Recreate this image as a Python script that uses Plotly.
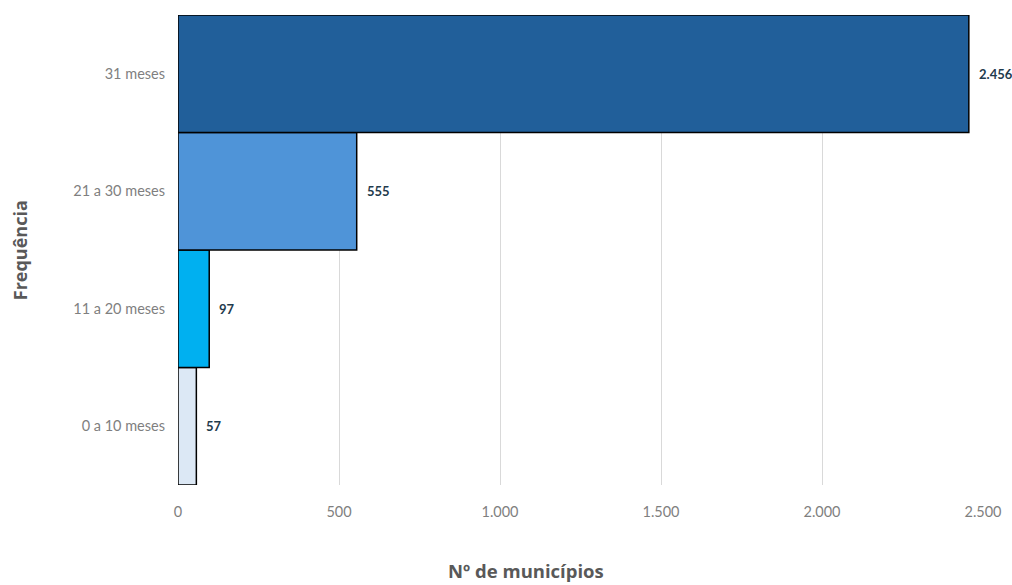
import plotly.graph_objects as go

categories = ["0 a 10 meses", "11 a 20 meses", "21 a 30 meses", "31 meses"]
values = [57, 97, 555, 2456]
labels = ["57", "97", "555", "2.456"]
colors = ["#DCE8F5", "#00B0F0", "#4F94D8", "#215F9A"]
x_ticks = [0, 500, 1000, 1500, 2000, 2500]
x_tick_labels = ["0", "500", "1.000", "1.500", "2.000", "2.500"]

fig = go.Figure()
fig.add_trace(go.Bar(
    x=values, y=categories, orientation="h",
    marker=dict(color=colors, line=dict(color="#000000", width=1.5)),
    hoverinfo="skip",
))

annotations = [
    dict(x=v, y=c, text="<b>" + t + "</b>", xref="x", yref="y",
         xanchor="left", yanchor="middle", xshift=8, showarrow=False,
         font=dict(family="Lato", size=13, color="#1F3B4D"))
    for v, c, t in zip(values, categories, labels)
]
annotations += [
    dict(text="<b>Frequência</b>", xref="paper", yref="paper",
         x=-0.196, y=0.5, xanchor="center", yanchor="middle",
         showarrow=False, textangle=-90,
         font=dict(family="Open Sans", size=18, color="#595959")),
    dict(text="<b>Nº de municípios</b>", xref="paper", yref="paper",
         x=0.432, y=-0.182, xanchor="center", yanchor="middle", showarrow=False,
         font=dict(family="Open Sans", size=18.5, color="#595959")),
]

fig.update_layout(
    width=1012, height=585,
    margin=dict(l=178, r=29, t=15, b=100, autoexpand=False),
    paper_bgcolor="white", plot_bgcolor="white",
    bargap=0, showlegend=False,
    font=dict(family="Lato", color="#7F7F7F"),
    xaxis=dict(range=[0, 2500], tickvals=x_ticks, ticktext=x_tick_labels,
               showgrid=True, gridcolor="#D9D9D9", gridwidth=1, zeroline=False,
               showline=False, tickfont=dict(size=14.5, color="#7F7F7F"),
               ticklabelstandoff=16, automargin=False),
    yaxis=dict(categoryorder="array", categoryarray=categories,
               showgrid=False, zeroline=False, showline=False,
               tickfont=dict(size=14.5, color="#7F7F7F"), ticklabelstandoff=12,
               automargin=False),
    annotations=annotations,
)

fig.write_html(
    "out.html",
    config={"displayModeBar": False, "staticPlot": True},
    post_script="document.body.style.margin='0';document.body.style.padding='0';",
)
